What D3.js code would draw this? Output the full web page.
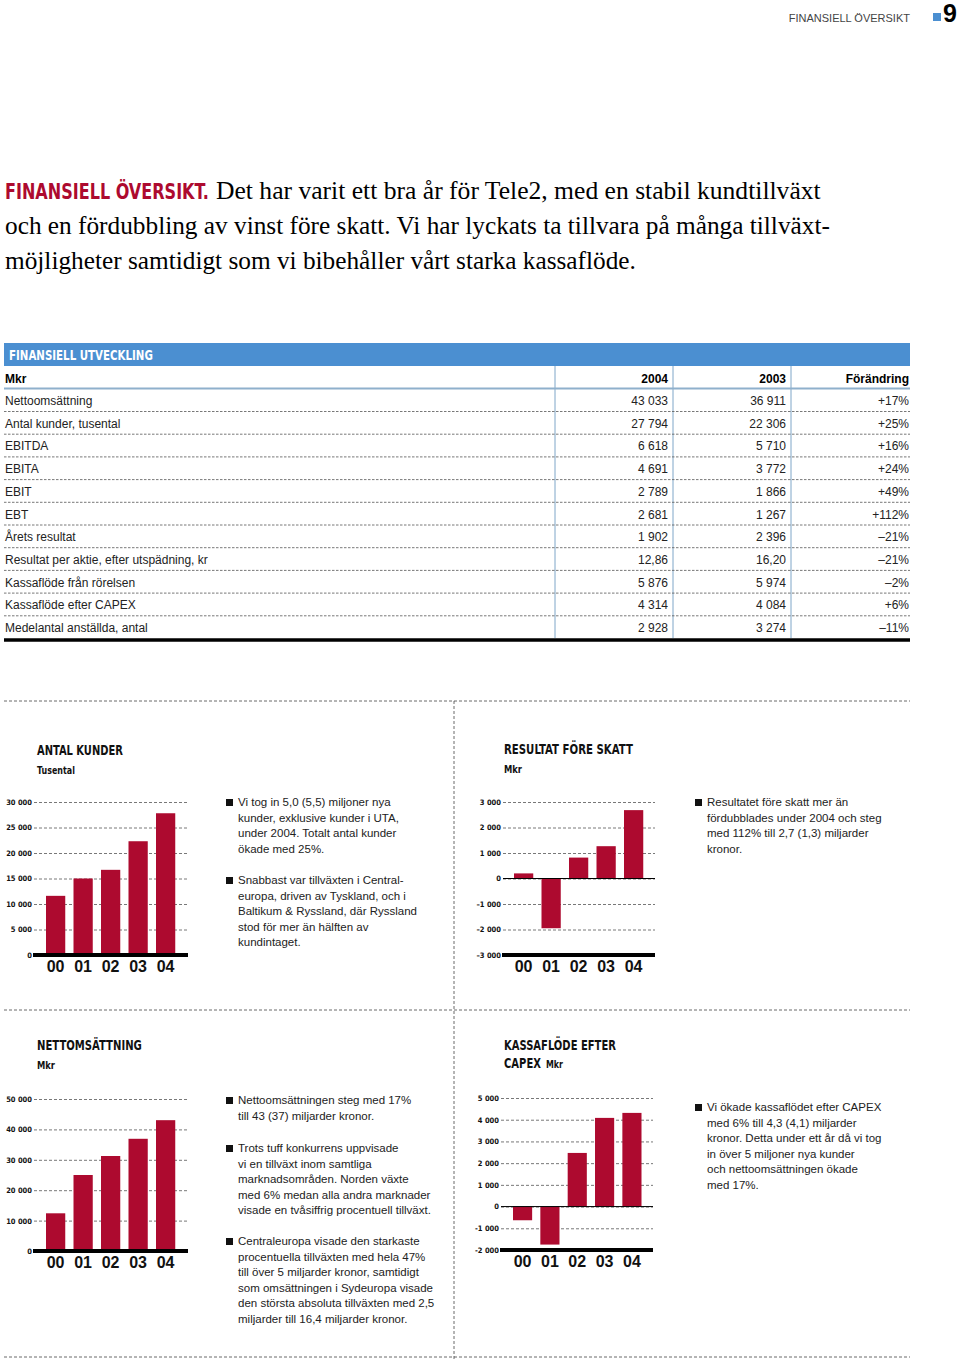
<!DOCTYPE html>
<html>
<head>
<meta charset="utf-8">
<script src="https://cdnjs.cloudflare.com/ajax/libs/d3/7.8.5/d3.min.js"></script>
<style>
  body { margin: 0; background: #fff; }
  svg { display: block; }
  .sans { font-family: "Liberation Sans", Arial, sans-serif; }
  .cond { font-family: "DejaVu Sans Condensed", "DejaVu Sans", sans-serif; font-stretch: condensed; font-weight: bold; }
  .serif { font-family: "Liberation Serif", "DejaVu Serif", serif; }
</style>
</head>
<body>
<div id="page"></div>
<script>
// ---- Data ----------------------------------------------------------------
const years = ['00', '01', '02', '03', '04'];
const antalKunder = [11600, 15000, 16700, 22306, 27794];
const resultatForeSkatt = [200, -1950, 820, 1267, 2681];
const nettoomsattning = [12400, 25000, 31250, 36911, 43033];
const kassaflodeCapex = [-630, -1750, 2470, 4084, 4314];

const tableColumns = ['Mkr', '2004', '2003', 'Förändring'];
const tableRows = [
  ['Nettoomsättning', '43 033', '36 911', '+17%'],
  ['Antal kunder, tusental', '27 794', '22 306', '+25%'],
  ['EBITDA', '6 618', '5 710', '+16%'],
  ['EBITA', '4 691', '3 772', '+24%'],
  ['EBIT', '2 789', '1 866', '+49%'],
  ['EBT', '2 681', '1 267', '+112%'],
  ['Årets resultat', '1 902', '2 396', '–21%'],
  ['Resultat per aktie, efter utspädning, kr', '12,86', '16,20', '–21%'],
  ['Kassaflöde från rörelsen', '5 876', '5 974', '–2%'],
  ['Kassaflöde efter CAPEX', '4 314', '4 084', '+6%'],
  ['Medelantal anställda, antal', '2 928', '3 274', '–11%'],
];

const RED = '#ad0a2f';
const BLUE = '#4b8fd1';

const W = 960, H = 1359;
const svg = d3.select('#page').append('svg').attr('width', W).attr('height', H);

// condensed heading: draw at origin, then squeeze it horizontally to width w
function condText(parent, x, y, size, w, str, fill) {
  const t = parent.append('text').attr('class', 'cond')
    .attr('font-size', size).attr('fill', fill || '#111').text(str);
  const len = t.node().getComputedTextLength();
  t.attr('transform', `translate(${x},${y}) scale(${w / len},1)`);
  return t;
}

// ---- Page header ---------------------------------------------------------
svg.append('text').attr('class', 'sans')
  .attr('x', 910).attr('y', 22).attr('text-anchor', 'end')
  .attr('font-size', 11).attr('fill', '#444')
  .text('FINANSIELL ÖVERSIKT');
svg.append('rect').attr('x', 933).attr('y', 13).attr('width', 8).attr('height', 8).attr('fill', BLUE);
svg.append('text').attr('class', 'sans')
  .attr('x', 957).attr('y', 22).attr('text-anchor', 'end')
  .attr('font-size', 25).attr('font-weight', 'bold')
  .text('9');

// ---- Intro paragraph -----------------------------------------------------
const intro = svg.append('g');
condText(intro, 5, 199, 22, 204, 'FINANSIELL ÖVERSIKT.', RED);
intro.append('text').attr('class', 'serif')
  .attr('x', 216).attr('y', 199).attr('font-size', 25.6)
  .text('Det har varit ett bra år för Tele2, med en stabil kundtillväxt');
intro.append('text').attr('class', 'serif')
  .attr('x', 5).attr('y', 234).attr('font-size', 25.3)
  .text('och en fördubbling av vinst före skatt. Vi har lyckats ta tillvara på många tillväxt-');
intro.append('text').attr('class', 'serif')
  .attr('x', 5).attr('y', 269).attr('font-size', 25.3)
  .text('möjligheter samtidigt som vi bibehåller vårt starka kassaflöde.');

// ---- Table ---------------------------------------------------------------
const table = svg.append('g').attr('class', 'sans');
const tLeft = 4, tRight = 910;
const colRight = [null, 668, 786, 909];
const colLines = [555, 673, 791];
const rowY = d3.scaleLinear().domain([0, tableRows.length - 1]).range([400, 627]);

table.append('rect').attr('x', tLeft).attr('y', 343).attr('width', tRight - tLeft).attr('height', 23).attr('fill', BLUE);
condText(table, 9, 360, 13.5, 144, 'FINANSIELL UTVECKLING', '#fff');

colLines.forEach(x => {
  table.append('line').attr('x1', x).attr('x2', x).attr('y1', 366).attr('y2', 638)
    .attr('stroke', '#7fa6c8').attr('stroke-width', 1);
});

tableColumns.forEach((c, i) => {
  table.append('text')
    .attr('x', i === 0 ? 5 : colRight[i]).attr('y', 383)
    .attr('text-anchor', i === 0 ? 'start' : 'end')
    .attr('font-size', 12).attr('font-weight', 'bold').text(c);
});
table.append('line').attr('x1', tLeft).attr('x2', tRight).attr('y1', 388.5).attr('y2', 388.5)
  .attr('stroke', '#8fb0cc').attr('stroke-width', 2);

tableRows.forEach((r, i) => {
  const y = rowY(i);
  r.forEach((v, j) => {
    table.append('text')
      .attr('x', j === 0 ? 5 : colRight[j]).attr('y', y + 5)
      .attr('text-anchor', j === 0 ? 'start' : 'end')
      .attr('font-size', 12).attr('fill', '#222').text(v);
  });
  if (i < tableRows.length - 1) {
    table.append('line').attr('x1', tLeft).attr('x2', tRight)
      .attr('y1', y + 11.5).attr('y2', y + 11.5)
      .attr('stroke', '#555').attr('stroke-width', 0.8).attr('stroke-dasharray', '2.5,1.5');
  }
});
table.append('line').attr('x1', tLeft).attr('x2', tRight).attr('y1', 640).attr('y2', 640)
  .attr('stroke', '#000').attr('stroke-width', 3.5);

// ---- Section separators --------------------------------------------------
const sep = svg.append('g').attr('stroke', '#444').attr('stroke-width', 0.8).attr('stroke-dasharray', '3,2');
[701, 1010, 1357].forEach(y => sep.append('line').attr('x1', 4).attr('x2', 910).attr('y1', y).attr('y2', y));
sep.append('line').attr('x1', 454).attr('x2', 454).attr('y1', 701).attr('y2', 1359);

// ---- Bar charts ----------------------------------------------------------
function barChart(opt) {
  const g = svg.append('g');
  const x = d3.scaleBand().domain(years).range(opt.bars).paddingInner(0.3).paddingOuter(0);
  const y = d3.scaleLinear().domain(opt.domain).range(opt.yRange);
  const fmt = d3.formatLocale({ decimal: ',', thousands: ' ', grouping: [3], currency: ['', ''], minus: opt.minus }).format(',d');

  // titles: [text, width, optional small suffix, suffix width]
  opt.title.forEach((t, i) => {
    const ty = opt.titleY + i * 18;
    condText(g, opt.titleX, ty, 14, t[1], t[0]);
    if (t[2]) condText(g, opt.titleX + t[1] + 5, ty, 10, t[3], t[2]);
  });
  if (opt.unit) condText(g, opt.titleX, opt.titleY + 19, 10, opt.unit[1], opt.unit[0]);

  // axis labels + dashed grid
  const axis = d3.axisLeft(y).tickValues(opt.ticks)
    .tickSizeInner(-(opt.grid[1] - opt.grid[0])).tickSizeOuter(0).tickPadding(2)
    .tickFormat(fmt);
  const ax = g.append('g').attr('transform', `translate(${opt.grid[0]},0)`).call(axis);
  ax.select('.domain').remove();
  ax.selectAll('.tick line').attr('stroke', '#555').attr('stroke-width', 0.8).attr('stroke-dasharray', '3,2');
  ax.selectAll('.tick text').attr('class', 'cond').attr('font-size', 7.5).attr('fill', '#111');

  // bars
  g.selectAll('rect.bar').data(opt.values).join('rect').attr('class', 'bar')
    .attr('x', (d, i) => x(years[i]))
    .attr('width', x.bandwidth())
    .attr('y', d => y(Math.max(0, d)))
    .attr('height', d => Math.abs(y(d) - y(0)))
    .attr('fill', RED);

  // zero line (thin) when domain has negatives
  if (opt.domain[0] < 0) {
    g.append('line').attr('x1', opt.grid[0]).attr('x2', opt.grid[1])
      .attr('y1', y(0)).attr('y2', y(0)).attr('stroke', '#000').attr('stroke-width', 1);
  }
  // thick bottom rule
  g.append('line').attr('x1', opt.grid[0] - 1).attr('x2', opt.grid[1])
    .attr('y1', y(opt.domain[0])).attr('y2', y(opt.domain[0]))
    .attr('stroke', '#000').attr('stroke-width', 4);

  // year labels
  g.selectAll('text.year').data(years).join('text').attr('class', 'year sans')
    .attr('x', d => x(d) + x.bandwidth() / 2)
    .attr('y', y(opt.domain[0]) + 17)
    .attr('text-anchor', 'middle').attr('font-size', 16).attr('font-weight', 'bold')
    .attr('fill', '#111')
    .text(d => d);

  // bullet text
  opt.notes.forEach(n => {
    g.append('rect').attr('x', opt.noteX - 12).attr('y', n.y - 7).attr('width', 7).attr('height', 7).attr('fill', '#111');
    n.lines.forEach((l, i) => {
      g.append('text').attr('class', 'sans')
        .attr('x', opt.noteX).attr('y', n.y + i * 15.5)
        .attr('font-size', 11.5).attr('fill', '#222').text(l);
    });
  });
}

barChart({
  title: [['ANTAL KUNDER', 86]], unit: ['Tusental', 38], titleX: 37, titleY: 755,
  values: antalKunder, domain: [0, 30000], yRange: [955, 802],
  ticks: [0, 5000, 10000, 15000, 20000, 25000, 30000],
  grid: [34, 188], bars: [46, 175.25], minus: '–', noteX: 238,
  notes: [
    { y: 806, lines: ['Vi tog in 5,0 (5,5) miljoner nya', 'kunder, exklusive kunder i UTA,', 'under 2004. Totalt antal kunder', 'ökade med 25%.'] },
    { y: 884, lines: ['Snabbast var tillväxten i Central-', 'europa, driven av Tyskland, och i', 'Baltikum & Ryssland, där Ryssland', 'stod för mer än hälften av', 'kundintaget.'] },
  ],
});

barChart({
  title: [['RESULTAT FÖRE SKATT', 129]], unit: ['Mkr', 18], titleX: 504, titleY: 754,
  values: resultatForeSkatt, domain: [-3000, 3000], yRange: [955, 802],
  ticks: [-3000, -2000, -1000, 0, 1000, 2000, 3000],
  grid: [503, 655], bars: [514, 643.25], minus: '–', noteX: 707,
  notes: [
    { y: 806, lines: ['Resultatet före skatt mer än', 'fördubblades under 2004 och steg', 'med 112% till 2,7 (1,3) miljarder', 'kronor.'] },
  ],
});

barChart({
  title: [['NETTOMSÄTTNING', 105]], unit: ['Mkr', 18], titleX: 37, titleY: 1050,
  values: nettoomsattning, domain: [0, 50000], yRange: [1251, 1099],
  ticks: [0, 10000, 20000, 30000, 40000, 50000],
  grid: [34, 188], bars: [46, 175.25], minus: '–', noteX: 238,
  notes: [
    { y: 1104, lines: ['Nettoomsättningen steg med 17%', 'till 43 (37) miljarder kronor.'] },
    { y: 1152, lines: ['Trots tuff konkurrens uppvisade', 'vi en tillväxt inom samtliga', 'marknadsområden. Norden växte', 'med 6% medan alla andra marknader', 'visade en tvåsiffrig procentuell tillväxt.'] },
    { y: 1245, lines: ['Centraleuropa visade den starkaste', 'procentuella tillväxten med hela 47%', 'till över 5 miljarder kronor, samtidigt', 'som omsättningen i Sydeuropa visade', 'den största absoluta tillväxten med 2,5', 'miljarder till 16,4 miljarder kronor.'] },
  ],
});

barChart({
  title: [['KASSAFLÖDE EFTER', 112], ['CAPEX', 37, 'Mkr', 17]], unit: null, titleX: 504, titleY: 1050,
  values: kassaflodeCapex, domain: [-2000, 5000], yRange: [1250, 1098],
  ticks: [-2000, -1000, 0, 1000, 2000, 3000, 4000, 5000],
  grid: [501, 653], bars: [513, 641.5], minus: '-', noteX: 707,
  notes: [
    { y: 1111, lines: ['Vi ökade kassaflödet efter CAPEX', 'med 6% till 4,3 (4,1) miljarder', 'kronor. Detta under ett år då vi tog', 'in över 5 miljoner nya kunder', 'och nettoomsättningen ökade', 'med 17%.'] },
  ],
});
</script>
</body>
</html>
